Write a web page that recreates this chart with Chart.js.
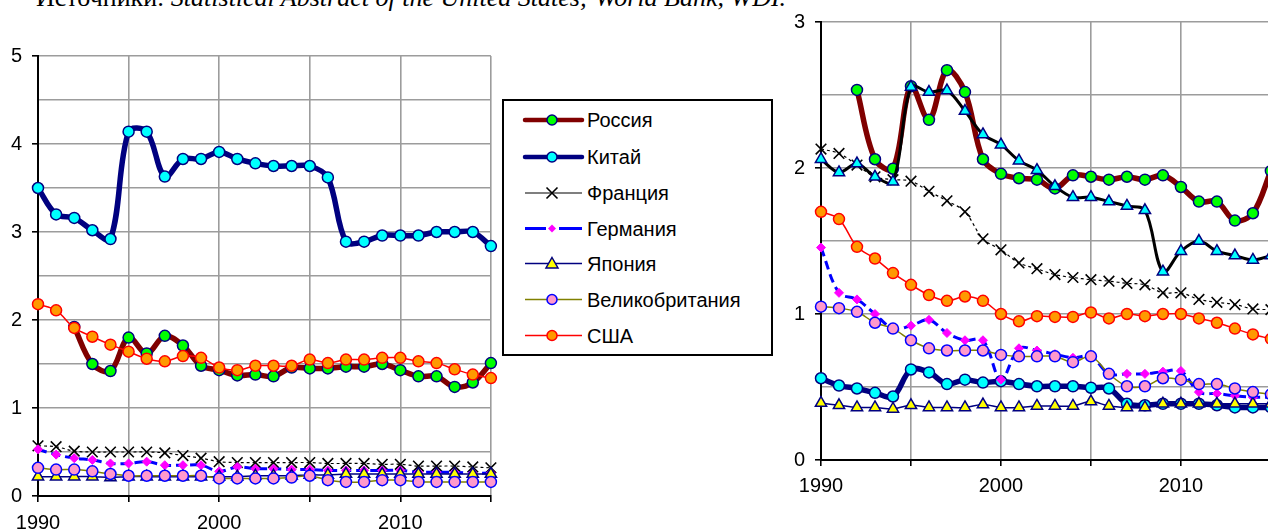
<!DOCTYPE html>
<html>
<head>
<meta charset="utf-8">
<script src="https://cdn.jsdelivr.net/npm/chart.js@4.4.1/dist/chart.umd.min.js"></script>
<style>
  html, body { margin: 0; padding: 0; width: 1268px; height: 532px; overflow: hidden; background: #fff; }
  body { position: relative; }
  #cap { position: absolute; left: 36px; top: -15px; font: 26px/26px "Liberation Serif", serif; white-space: nowrap; color: #000; }
  #left { position: absolute; left: 0; top: 0; }
  #right { position: absolute; left: 770px; top: 0; }
  #legend { position: absolute; left: 502px; top: 99px; width: 271px; height: 257px; border: 2px solid #000; box-sizing: border-box; background: #fff; }
  #legend svg { position: absolute; left: 0; top: 0; }
  .lg { position: absolute; left: 83px; font: 20px/24px "Liberation Sans", Arial, sans-serif; color: #000; white-space: nowrap; }
</style>
</head>
<body>
<div id="cap">Источники: <i>Statistical Abstract of the United States; World Bank, WDI.</i></div>
<canvas id="left" width="500" height="532"></canvas>
<canvas id="right" width="510" height="532"></canvas>
<div id="legend"></div>
<script>
const years = [1990, 1991, 1992, 1993, 1994, 1995, 1996, 1997, 1998, 1999, 2000, 2001, 2002,
  2003, 2004, 2005, 2006, 2007, 2008, 2009, 2010, 2011, 2012, 2013, 2014, 2015];
const names = ["Россия", "Китай", "Франция", "Германия", "Япония", "Великобритания", "США"];

// left chart
const russiaL = [null, null, 1.92, 1.50, 1.42, 1.80, 1.62, 1.82, 1.71, 1.48, 1.43, 1.37, 1.38, 1.36, 1.46, 1.45, 1.45, 1.47, 1.47, 1.50, 1.43, 1.36, 1.36, 1.24, 1.29, 1.51];
const chinaL = [3.50, 3.20, 3.16, 3.02, 2.92, 4.14, 4.14, 3.63, 3.83, 3.83, 3.91, 3.83, 3.78, 3.75, 3.75, 3.75, 3.62, 2.89, 2.89, 2.96, 2.96, 2.96, 3.00, 3.00, 3.00, 2.84];
const franceL = [0.57, 0.56, 0.51, 0.50, 0.50, 0.50, 0.50, 0.49, 0.46, 0.43, 0.39, 0.38, 0.38, 0.38, 0.38, 0.38, 0.37, 0.37, 0.37, 0.36, 0.36, 0.34, 0.34, 0.34, 0.33, 0.32];
const germanyL = [0.53, 0.47, 0.43, 0.41, 0.37, 0.37, 0.39, 0.35, 0.35, 0.35, 0.28, 0.33, 0.31, 0.31, 0.30, 0.30, 0.29, 0.29, 0.29, 0.29, 0.29, 0.27, 0.27, 0.27, 0.26, 0.26];
const japanL = [0.22, 0.22, 0.22, 0.22, 0.21, 0.22, 0.22, 0.22, 0.22, 0.22, 0.22, 0.22, 0.23, 0.23, 0.23, 0.24, 0.24, 0.25, 0.25, 0.25, 0.25, 0.25, 0.25, 0.25, 0.25, 0.25];
const ukL = [0.32, 0.30, 0.30, 0.28, 0.25, 0.23, 0.23, 0.23, 0.23, 0.23, 0.20, 0.20, 0.20, 0.20, 0.21, 0.23, 0.18, 0.16, 0.16, 0.18, 0.18, 0.16, 0.16, 0.16, 0.16, 0.16];
const usaL = [2.18, 2.11, 1.91, 1.81, 1.72, 1.64, 1.56, 1.53, 1.59, 1.57, 1.46, 1.43, 1.48, 1.48, 1.48, 1.55, 1.51, 1.55, 1.55, 1.57, 1.57, 1.53, 1.51, 1.44, 1.38, 1.34];

// right chart
const russiaR = [null, null, 2.535, 2.06, 1.995, 2.56, 2.33, 2.67, 2.52, 2.06, 1.96, 1.93, 1.92, 1.86, 1.95, 1.94, 1.92, 1.94, 1.92, 1.95, 1.87, 1.77, 1.77, 1.64, 1.69, 1.98];
const chinaR = [0.56, 0.51, 0.49, 0.46, 0.435, 0.62, 0.60, 0.52, 0.55, 0.53, 0.54, 0.52, 0.505, 0.505, 0.505, 0.495, 0.49, 0.385, 0.375, 0.385, 0.385, 0.385, 0.375, 0.36, 0.36, 0.36];
const franceR = [2.13, 2.10, 2.02, 1.94, 1.92, 1.91, 1.84, 1.775, 1.70, 1.515, 1.44, 1.35, 1.31, 1.27, 1.25, 1.235, 1.225, 1.21, 1.20, 1.145, 1.145, 1.10, 1.08, 1.065, 1.035, 1.03];
const germanyR = [1.455, 1.145, 1.10, 1.00, 0.90, 0.92, 0.96, 0.87, 0.82, 0.82, 0.55, 0.765, 0.75, 0.725, 0.70, 0.71, 0.59, 0.59, 0.59, 0.605, 0.61, 0.465, 0.455, 0.44, 0.43, 0.43];
const japanR = [0.39, 0.375, 0.36, 0.36, 0.35, 0.375, 0.36, 0.36, 0.36, 0.38, 0.36, 0.36, 0.37, 0.37, 0.37, 0.40, 0.37, 0.36, 0.36, 0.385, 0.385, 0.385, 0.385, 0.385, 0.385, 0.385];
const ukR = [1.05, 1.04, 1.015, 0.94, 0.90, 0.82, 0.765, 0.75, 0.75, 0.75, 0.72, 0.71, 0.71, 0.71, 0.67, 0.71, 0.59, 0.505, 0.505, 0.56, 0.55, 0.52, 0.52, 0.49, 0.465, 0.45];
const usaR = [1.70, 1.65, 1.46, 1.38, 1.28, 1.20, 1.13, 1.09, 1.12, 1.09, 1.00, 0.95, 0.985, 0.98, 0.98, 1.01, 0.97, 1.00, 0.985, 1.00, 1.00, 0.97, 0.94, 0.90, 0.86, 0.83];
const extraR = [2.06, 1.97, 2.03, 1.94, 1.905, 2.555, 2.52, 2.53, 2.39, 2.23, 2.16, 2.05, 1.985, 1.875, 1.80, 1.80, 1.77, 1.74, 1.71, 1.29, 1.43, 1.50, 1.43, 1.40, 1.37, 1.40];

// line + marker look of each series
const styles = [
  { line: "#800000", width: 5.5, dash: [], marker: "circle", r: 5.5, fill: "#00ff00", edge: "#000080", ew: 1.5 },
  { line: "#000080", width: 5.5, dash: [], marker: "circle", r: 5.5, fill: "#00ffff", edge: "#000080", ew: 1.5 },
  { line: "#000000", width: 1.2, dash: [3, 3], marker: "crossRot", r: 7.5, fill: "#000000", edge: "#000000", ew: 1.6 },
  { line: "#0000ff", width: 3, dash: [9, 5], marker: "rectRot", r: 4.5, fill: "#ff00ff", edge: "#ff00ff", ew: 1 },
  { line: "#000080", width: 1.5, dash: [], marker: "triangle", r: 6.5, fill: "#ffff00", edge: "#000080", ew: 1.5 },
  { line: "#808000", width: 1.5, dash: [], marker: "circle", r: 5.5, fill: "#ff99cc", edge: "#0000ff", ew: 1.5 },
  { line: "#ff0000", width: 1.5, dash: [], marker: "circle", r: 5.5, fill: "#ff9900", edge: "#ff0000", ew: 1.5 }
];
const extraStyle = { line: "#000000", width: 3, dash: [], marker: "triangle", r: 6.5, fill: "#00ffff", edge: "#000080", ew: 1.5 };

function makeSet(label, vals, s, order) {
  return {
    label: label,
    data: years.map((y, i) => ({ x: y, y: vals[i] })),
    borderColor: s.line,
    borderWidth: s.width,
    borderDash: s.dash,
    tension: 0.35,
    pointStyle: s.marker,
    pointRadius: s.r,
    pointBackgroundColor: s.fill,
    pointBorderColor: s.edge,
    pointBorderWidth: s.ew,
    clip: false,
    order: order
  };
}

function options(maxY, padTop, padRight, yW, xH, xPad) {
  return {
    responsive: false,
    animation: false,
    layout: { padding: { top: padTop, right: padRight, left: 0, bottom: 0 } },
    plugins: { legend: { display: false }, tooltip: { enabled: false } },
    scales: {
      x: {
        type: "linear", min: 1990, max: 2015,
        afterFit: sc => { sc.height = xH; },
        border: { color: "#000", width: 2 },
        grid: { color: "#9c9c9c", lineWidth: 1.6, tickColor: "#000", tickLength: 6, tickWidth: 1.6 },
        ticks: {
          stepSize: 5, maxRotation: 0, autoSkip: false, padding: xPad, color: "#000",
          font: { family: "Liberation Sans", size: 20 },
          callback: v => (v % 10 === 0 ? String(v) : "")
        }
      },
      y: {
        min: 0, max: maxY,
        afterFit: sc => { sc.width = yW; },
        border: { color: "#000", width: 2 },
        grid: {
          color: "#9c9c9c", lineWidth: 1.6, tickLength: 6, tickWidth: 1.6,
          tickColor: c => (Number.isInteger(c.tick.value) ? "#000" : "rgba(0,0,0,0)")
        },
        ticks: {
          stepSize: 0.5, padding: 10, color: "#000",
          font: { family: "Liberation Sans", size: 20 },
          callback: v => (Number.isInteger(v) ? String(v) : "")
        }
      }
    }
  };
}

const leftVals = [russiaL, chinaL, franceL, germanyL, japanL, ukL, usaL];
new Chart(document.getElementById("left"), {
  type: "line",
  data: { datasets: leftVals.map((v, i) => makeSet(names[i], v, styles[i], 10 - i)) },
  options: options(5, 56, 8, 38, 36, 9)
});

const rightVals = [russiaR, chinaR, franceR, germanyR, japanR, ukR, usaR];
const rightSets = rightVals.map((v, i) => makeSet(names[i], v, styles[i], 10 - i));
rightSets.push(makeSet("Индия", extraR, extraStyle, 1));
new Chart(document.getElementById("right"), {
  type: "line",
  data: { datasets: rightSets },
  options: options(3, 19, 6, 51, 72, 8)
});

// legend box
const rowY = [19, 56, 92, 127.5, 162.5, 198.5, 234.5];
const svgNS = "http://www.w3.org/2000/svg";
const lg = document.getElementById("legend");
const svg = document.createElementNS(svgNS, "svg");
svg.setAttribute("width", "267");
svg.setAttribute("height", "253");
lg.appendChild(svg);
function el(tag, attrs) {
  const e = document.createElementNS(svgNS, tag);
  for (const k in attrs) e.setAttribute(k, attrs[k]);
  svg.appendChild(e);
  return e;
}
names.forEach((n, i) => {
  const s = styles[i];
  const y = rowY[i];
  const cx = 48;
  const lw = s.width > 4 ? 4.5 : s.width;
  if (i === 3) {
    el("line", { x1: 21, y1: y, x2: 42, y2: y, stroke: s.line, "stroke-width": 3 });
    el("line", { x1: 55, y1: y, x2: 78, y2: y, stroke: s.line, "stroke-width": 3 });
  } else {
    el("line", { x1: 21, y1: y, x2: 78, y2: y, stroke: s.line, "stroke-width": lw, "stroke-linecap": s.width > 4 ? "round" : "butt" });
  }
  if (s.marker === "circle") {
    el("circle", { cx: cx, cy: y, r: 5, fill: s.fill, stroke: s.edge, "stroke-width": 1.5 });
  } else if (s.marker === "crossRot") {
    el("path", { d: `M${cx - 5.5} ${y - 5.5}L${cx + 5.5} ${y + 5.5}M${cx + 5.5} ${y - 5.5}L${cx - 5.5} ${y + 5.5}`, stroke: "#000", "stroke-width": 1.6 });
  } else if (s.marker === "rectRot") {
    el("path", { d: `M${cx} ${y - 4}L${cx + 4} ${y}L${cx} ${y + 4}L${cx - 4} ${y}Z`, fill: s.fill });
  } else {
    el("path", { d: `M${cx} ${y - 6}L${cx + 6} ${y + 4.5}L${cx - 6} ${y + 4.5}Z`, fill: s.fill, stroke: s.edge, "stroke-width": 1.5 });
  }
  const t = document.createElement("div");
  t.className = "lg";
  t.style.top = (y - 12) + "px";
  t.textContent = n;
  lg.appendChild(t);
});
</script>
</body>
</html>
